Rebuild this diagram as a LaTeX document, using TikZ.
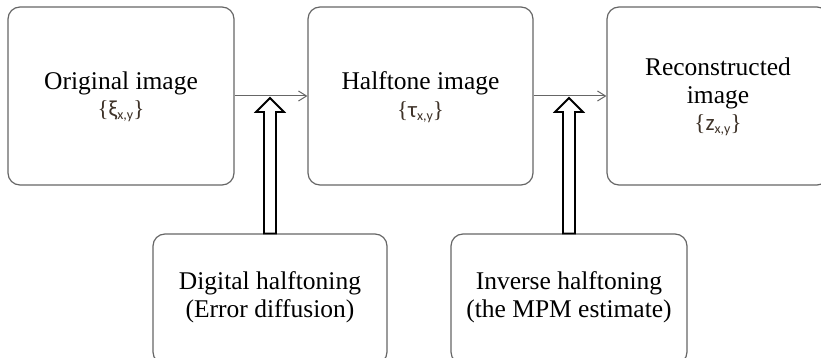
\documentclass[tikz,border=0pt]{standalone}
\usepackage{fontspec}
\setmainfont{Liberation Serif}
\newfontfamily\carl{Carlito}
\usetikzlibrary{arrows.meta,calc}
\definecolor{boxgray}{HTML}{666666}
\definecolor{frmcol}{HTML}{3E3228}
\newcommand\frmla[2]{{\color{frmcol}\fontsize{23}{27}\selectfont\{{\carl #1\raisebox{-3pt}{\fontsize{14}{14}\selectfont #2}}\}}}
\begin{document}
\begin{tikzpicture}[x=1pt,y=-1pt,
  box/.style={draw=boxgray, line width=1.2pt, rounded corners=12pt, inner sep=0pt, fill=white},
  txt/.style={align=center, inner sep=0pt, font=\fontsize{25.5}{27.5}\selectfont},
  flow/.style={draw=boxgray, line width=1pt, -{Straight Barb[length=8pt,width=10pt,line width=1pt]}},
  blk/.style={draw=black, line width=1.8pt, fill=white, line join=miter}]
\useasboundingbox (0,0) rectangle (821,358);
\clip (0,0) rectangle (821,358);
% top boxes
\node[box, minimum width=226pt, minimum height=178pt] (b1) at (121,96) {};
\node[box, minimum width=225pt, minimum height=178pt] (b2) at (420.5,96) {};
\node[box, minimum width=222pt, minimum height=178pt] (b3) at (718,96) {};
% bottom boxes
\node[box, minimum width=234pt, minimum height=130pt] (d1) at (270,299) {};
\node[box, minimum width=236pt, minimum height=130pt] (d2) at (569,299) {};
% texts
\node[txt] (t1) at (121,97) {Original image\\\frmla{ξ}{x,y}};
\node[txt] (t2) at (420.5,97) {Halftone image\\\frmla{τ}{x,y}};
\node[txt] (t3) at (718,97) {Reconstructed\\image\\\frmla{z}{x,y}};
\node[txt] (u1) at (270,297) {Digital halftoning\\(Error diffusion)};
\node[txt] (u2) at (569,297) {Inverse halftoning\\(the MPM estimate)};
% flow arrows
\draw[flow] (b1.east) -- (b2.west);
\draw[flow] (b2.east) -- (b3.west);
% block arrows
\coordinate (p1) at ([yshift=-2pt]d1.north |- b1.east);
\coordinate (p2) at ([yshift=-2pt]d2.north |- b2.east);
\foreach \d/\p in {d1/p1, d2/p2}{
  \draw[blk] ([xshift=-6pt]\d.north) -- ([xshift=-6pt,yshift=-14pt]\p) -- ([xshift=-14pt,yshift=-14pt]\p) -- (\p) -- ([xshift=14pt,yshift=-14pt]\p) -- ([xshift=6pt,yshift=-14pt]\p) -- ([xshift=6pt]\d.north) -- cycle;
}
\end{tikzpicture}
\end{document}
